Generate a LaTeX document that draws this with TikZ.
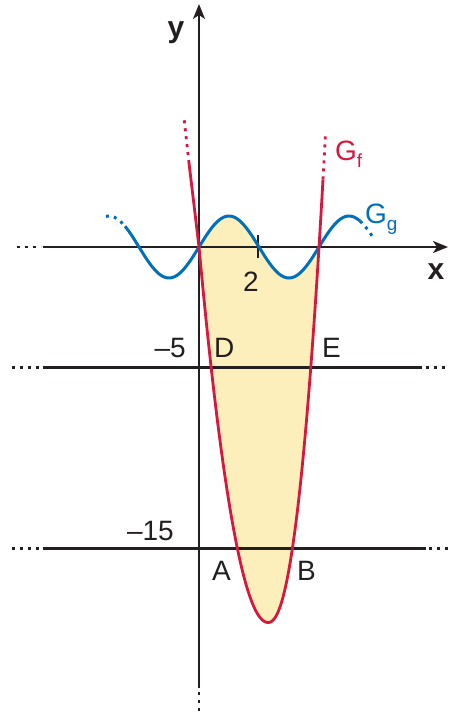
\documentclass[tikz,border=0pt]{standalone}
\usepackage{fontspec}
\setmainfont{Liberation Sans}
\usetikzlibrary{arrows.meta}
\definecolor{fred}{RGB}{214,24,62}
\definecolor{gblue}{RGB}{0,112,186}
\definecolor{fillyel}{RGB}{253,239,188}
\definecolor{ink}{RGB}{35,31,32}
\tikzset{
  axisline/.style={draw=ink,line width=2pt},
  hline/.style={draw=ink,line width=3pt},
  dotline/.style={dash pattern=on 3pt off 5pt},
  fcurve/.style={draw=fred,line width=2.8pt,line join=round},
  gcurve/.style={draw=gblue,line width=3pt},
  lab/.style={font=\fontsize{28}{28}\selectfont,text=ink,inner sep=0pt,anchor=base},
  axlab/.style={font=\fontsize{30}{30}\selectfont\bfseries,text=ink,inner sep=0pt,anchor=base},
}
\newcommand{\subtxt}[1]{\raisebox{-7pt}{\fontsize{19}{19}\selectfont #1}}
\begin{document}
\begin{tikzpicture}[x=1pt,y=-1pt]
\useasboundingbox (0,0) rectangle (449,715);
% fill between g and f
\fill[fillyel] plot[domain=199:319,samples=80] (\x,{247-31*sin(3*(\x-199))})
  -- plot[domain=51:0.01,samples=60] ({268+\x},{622.5-0.06574*(\x)^2.2})
  -- plot[domain=0:-69,samples=60] ({268+\x},{622.5-0.0789*\x*\x}) -- cycle;
% horizontal lines y=-5 and y=-15
\draw[hline] (43,367) coordinate (h5l) -- (422,367) coordinate (h5r);
\draw[hline,dotline] (12,367) -- (40,367);
\draw[hline,dotline] (426,367) -- (449,367);
\draw[hline] (43,548) coordinate (h15l) -- (426,548) coordinate (h15r);
\draw[hline,dotline] (12,548) -- (40,548);
\draw[hline,dotline] (429,548) -- (449,548);
% axes
\coordinate (xs) at (43,247);
\coordinate (xe) at (448,247);
\coordinate (ys) at (199,688);
\coordinate (ye) at (199,4);
\draw[axisline,-{Stealth[length=15pt,width=12pt,inset=4pt]}] (xs) -- (xe);
\draw[axisline,dotline] (17,247) -- (41,247);
\draw[axisline,-{Stealth[length=15pt,width=12pt,inset=4pt]}] (ys) -- (ye);
\draw[axisline,dotline] (199,692) -- (199,715);
% tick at 2
\draw[axisline] (258,235) -- (258,258);
% curve g
\draw[gcurve] plot[domain=125:360,samples=120] (\x,{247-31*sin(3*(\x-199))});
\draw[gcurve,dotline] plot[domain=106:125,samples=10] (\x,{247-31*sin(3*(\x-199))});
\draw[gcurve,dotline] plot[domain=360:374,samples=10] (\x,{247-31*sin(3*(\x-199))});
% curve f
\coordinate (ftopl) at (189,163);
\coordinate (fzero) at (199,247);
\draw[fcurve] (ftopl) -- (fzero)
  -- plot[domain=-69:0,samples=70] ({268+\x},{622.5-0.0789*\x*\x})
  -- plot[domain=0.01:55,samples=70] ({268+\x},{622.5-0.06574*(\x)^2.2}) coordinate (ftopr);
\coordinate (fdotl) at (184.2,120);
\coordinate (fdotr) at (325.5,134);
\draw[fcurve,dotline] (ftopl) -- (fdotl);
\draw[fcurve,dotline] (ftopr) -- (fdotr);
% labels
\node[axlab] (ylab) at (176,37) {y};
\node[axlab] (xlab) at (436,279) {x};
\node[lab] (two) at (251,291) {2};
\node[lab,anchor=base east] (m5) at (186,357) {–5};
\node[lab,anchor=base east] (m15) at (174,540) {–15};
\node[lab,anchor=base west] (D) at (214,357) {D};
\node[lab,anchor=base west] (E) at (322,357) {E};
\node[lab,anchor=base west] (A) at (212,580) {A};
\node[lab,anchor=base west] (B) at (297,580) {B};
\node[lab,anchor=base west,text=fred] (Gf) at (335,160) {G\subtxt{f}};
\node[lab,anchor=base west,text=gblue] (Gg) at (365,223) {G\subtxt{g}};
\end{tikzpicture}
\end{document}
